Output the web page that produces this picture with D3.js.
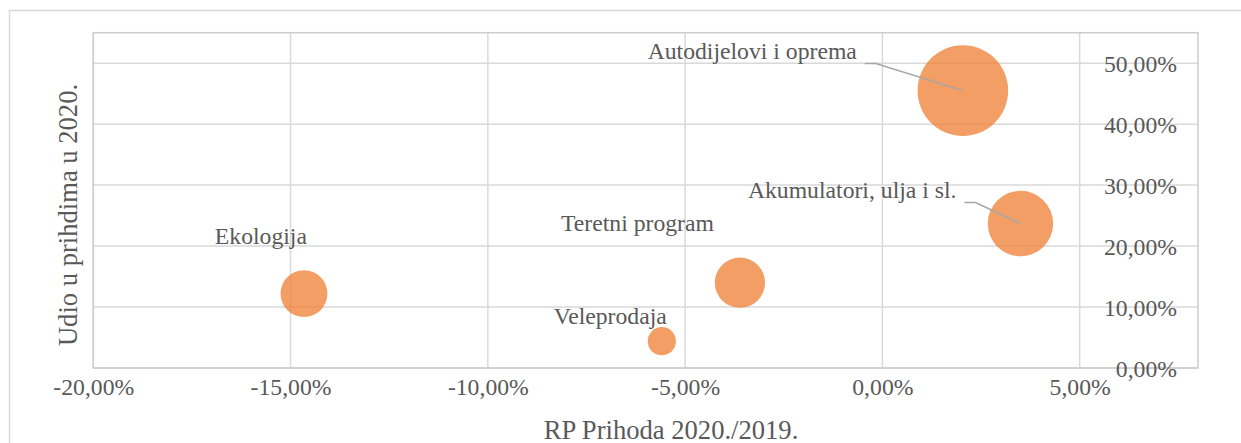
<!DOCTYPE html>
<html>
<head>
<meta charset="utf-8">
<script src="https://cdn.jsdelivr.net/npm/d3@7"></script>
<style>
  body { margin: 0; background: #fff; }
  svg { display: block; }
  text { font-family: "Liberation Serif", "Times New Roman", serif; fill: #595959; }
</style>
</head>
<body>
<svg id="chart" width="1241" height="443"></svg>
<script>
// data
var categories = ["Autodijelovi i oprema", "Akumulatori, ulja i sl.", "Teretni program", "Veleprodaja", "Ekologija"];
var growth = [0.0204, 0.0350, -0.0361, -0.0559, -0.1466];   // RP Prihoda 2020./2019.
var share  = [0.455, 0.237, 0.140, 0.044, 0.122];          // Udio u prihdima u 2020. (also bubble size)
var xTicks = [-0.20, -0.15, -0.10, -0.05, 0.00, 0.05];
var yTicks = [0.00, 0.10, 0.20, 0.30, 0.40, 0.50];

// label placement (text end / baseline relative to bubble centre), leader line or not
var labelOffsets = [[-106, -32, true], [-64, -26, true], [-26, -52, false], [5, -17, false], [3, -50, false]];

var margin = { left: 93.3, top: 32.7, right: 1198, bottom: 368 };

var locale = d3.formatLocale({ decimal: ",", thousands: ".", grouping: [3], currency: ["", " kn"], minus: "-" });
var pct = locale.format(".2%");

var svg = d3.select("#chart");

// chart area border
svg.append("rect")
    .attr("x", 9.5).attr("y", 10.5)
    .attr("width", 1400).attr("height", 600)
    .attr("fill", "none").attr("stroke", "#d9d9d9").attr("stroke-width", 1.5);

var x = d3.scaleLinear().domain([-0.20, 0.08]).range([margin.left, margin.right]);
var y = d3.scaleLinear().domain([0, 0.55]).range([margin.bottom, margin.top]);
var r = d3.scaleSqrt().domain([0, d3.max(share)]).range([0, 45.3]);

var grid = svg.append("g").attr("class", "grid");
grid.selectAll("line.v")
    .data(xTicks)
  .enter().append("line")
    .attr("x1", function(d) { return x(d); }).attr("x2", function(d) { return x(d); })
    .attr("y1", margin.top).attr("y2", margin.bottom)
    .attr("stroke", "#d9d9d9").attr("stroke-width", 1.5);
grid.selectAll("line.h")
    .data(yTicks)
  .enter().append("line")
    .attr("x1", margin.left).attr("x2", margin.right)
    .attr("y1", function(d) { return y(d); }).attr("y2", function(d) { return y(d); })
    .attr("stroke", "#d9d9d9").attr("stroke-width", 1.5);

// plot area border
svg.append("rect")
    .attr("x", margin.left).attr("y", margin.top)
    .attr("width", margin.right - margin.left).attr("height", margin.bottom - margin.top)
    .attr("fill", "none").attr("stroke", "#cccccc").attr("stroke-width", 1.5);

// x axis
var xAxis = d3.axisBottom(x).tickValues(xTicks).tickFormat(pct).tickSize(0).tickPadding(27);
var gx = svg.append("g")
    .attr("transform", "translate(0," + margin.bottom + ")")
    .call(xAxis);
gx.select(".domain").remove();
gx.selectAll("text")
    .attr("font-size", "23.7px")
    .attr("font-family", "Liberation Serif, serif")
    .attr("fill", "#595959")
    .attr("dy", "0");

// y axis (on the right, labels inside)
var yAxis = d3.axisLeft(y).tickValues(yTicks).tickFormat(pct).tickSize(0).tickPadding(21);
var gy = svg.append("g")
    .attr("transform", "translate(" + margin.right + ",0)")
    .call(yAxis);
gy.select(".domain").remove();
gy.selectAll("text")
    .attr("font-size", "23.7px")
    .attr("font-family", "Liberation Serif, serif")
    .attr("fill", "#595959")
    .attr("dy", "0.34em");

// axis titles
svg.append("text")
    .attr("x", 671).attr("y", 439)
    .attr("text-anchor", "middle")
    .attr("font-size", "26.6px")
    .text("RP Prihoda 2020./2019.");
svg.append("text")
    .attr("transform", "translate(76.5,215) rotate(-90)")
    .attr("text-anchor", "middle")
    .attr("font-size", "26.6px")
    .text("Udio u prihdima u 2020.");

// bubbles
var idx = d3.range(categories.length);
svg.append("g").selectAll("circle")
    .data(idx.slice().sort(function(a, b) { return share[b] - share[a]; }))
  .enter().append("circle")
    .attr("cx", function(i) { return x(growth[i]); })
    .attr("cy", function(i) { return y(share[i]); })
    .attr("r", function(i) { return r(share[i]); })
    .attr("fill", "#ed7d31")
    .attr("fill-opacity", 0.75);

// leader lines
svg.append("g").selectAll("path")
    .data(idx.filter(function(i) { return labelOffsets[i][2]; }))
  .enter().append("path")
    .attr("d", function(i) {
      var cx = x(growth[i]), cy = y(share[i]);
      var ex = cx + labelOffsets[i][0], by = cy + labelOffsets[i][1];
      return "M" + (ex + 8) + "," + (by + 5) + "H" + (ex + 19) + "L" + cx + "," + cy;
    })
    .attr("fill", "none")
    .attr("stroke", "#a6a6a6")
    .attr("stroke-width", 1.5);

// data labels
svg.append("g").selectAll("text")
    .data(idx)
  .enter().append("text")
    .attr("x", function(i) { return x(growth[i]) + labelOffsets[i][0]; })
    .attr("y", function(i) { return y(share[i]) + labelOffsets[i][1]; })
    .attr("text-anchor", "end")
    .attr("font-size", "23.7px")
    .attr("fill", "#404040")
    .text(function(i) { return categories[i]; });
</script>
</body>
</html>
